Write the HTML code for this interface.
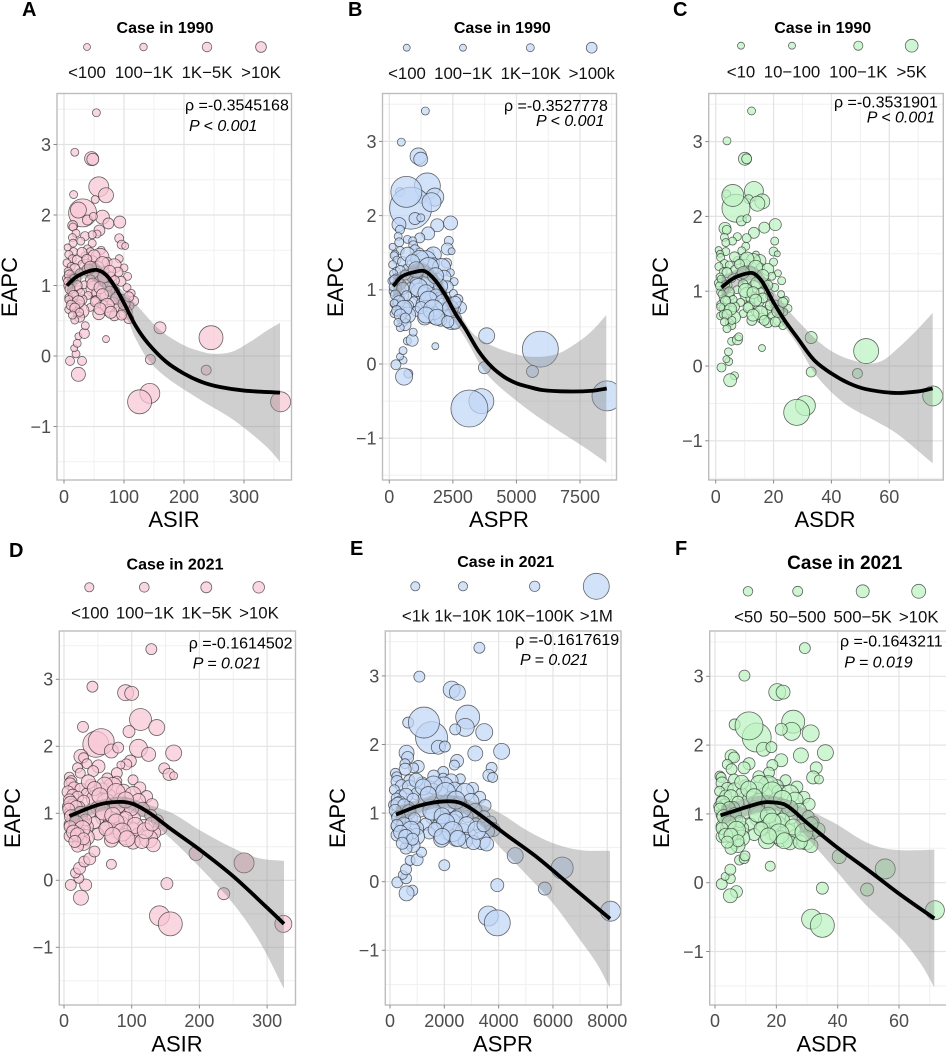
<!DOCTYPE html>
<html lang="en">
<head>
<meta charset="utf-8">
<title>EAPC scatter panels</title>
<style>
html,body{margin:0;padding:0;background:#fff;}
svg{display:block;font-family:"Liberation Sans",Arial,sans-serif;}
.letter{font-size:20px;font-weight:700;fill:#000;}
.ltitle{font-size:16px;font-weight:700;fill:#000;text-anchor:middle;}
.llabel{font-size:16.8px;fill:#111;text-anchor:middle;}
.rho{font-size:16px;fill:#000;}
.pv{font-size:16px;font-style:italic;fill:#000;}
.atitle{font-size:22px;fill:#000;text-anchor:middle;}
.tick{font-size:18px;fill:#4d4d4d;}
.lp{stroke:rgba(40,40,40,.7);stroke-width:.8;fill-opacity:.72;}
.pink{fill:#f8c6d6;}
.blue{fill:#c0d7f7;}
.green{fill:#bdf2c2;}
</style>
</head>
<body>
<svg id="fig" xmlns="http://www.w3.org/2000/svg" width="946" height="1053" viewBox="0 0 946 1053">
  <rect width="946" height="1053" fill="#fff"/>

  <g id="panel-a"></g>
  <g id="panel-b"></g>
  <g id="panel-c"></g>
  <g id="panel-d"></g>
  <g id="panel-e"></g>
  <g id="panel-f"></g>

  <!-- Panel A text -->
  <text class="letter" x="22" y="16">A</text>
  <text class="ltitle" x="165" y="33">Case in 1990</text>
  <g>
    <circle class="lp pink" cx="87" cy="47" r="3.5"/>
    <circle class="lp pink" cx="143.5" cy="47" r="3.8"/>
    <circle class="lp pink" cx="207" cy="47" r="4.8"/>
    <circle class="lp pink" cx="261" cy="47" r="5.4"/>
    <text class="llabel" x="87" y="78">&lt;100</text>
    <text class="llabel" x="144" y="78">100−1K</text>
    <text class="llabel" x="207" y="78">1K−5K</text>
    <text class="llabel" x="261" y="78">&gt;10K</text>
  </g>
  <text class="rho" x="185" y="110.7">ρ =-0.3545168</text>
  <text class="pv" x="189" y="131">P &lt; 0.001</text>
  <text class="atitle" x="174" y="527">ASIR</text>
  <text class="atitle" transform="translate(17,287) rotate(-90)">EAPC</text>

  <!-- Panel B text -->
  <text class="letter" x="348" y="16">B</text>
  <text class="ltitle" x="502.3" y="33">Case in 1990</text>
  <g>
    <circle class="lp blue" cx="406.7" cy="47.7" r="3.5"/>
    <circle class="lp blue" cx="463" cy="47.7" r="3.5"/>
    <circle class="lp blue" cx="530.3" cy="47.7" r="4"/>
    <circle class="lp blue" cx="591.7" cy="47.7" r="5.4"/>
    <text class="llabel" x="407" y="79">&lt;100</text>
    <text class="llabel" x="463.3" y="79">100−1K</text>
    <text class="llabel" x="530.7" y="79">1K−10K</text>
    <text class="llabel" x="591.7" y="79">&gt;100k</text>
  </g>
  <text class="rho" x="504" y="111">ρ =-0.3527778</text>
  <text class="pv" x="536" y="126">P &lt; 0.001</text>
  <text class="atitle" x="499" y="527">ASPR</text>
  <text class="atitle" transform="translate(343,287) rotate(-90)">EAPC</text>

  <!-- Panel C text -->
  <text class="letter" x="673" y="16">C</text>
  <text class="ltitle" x="822.7" y="33">Case in 1990</text>
  <g>
    <circle class="lp green" cx="741" cy="45.7" r="3.5"/>
    <circle class="lp green" cx="792" cy="45.7" r="3.5"/>
    <circle class="lp green" cx="858.3" cy="45.7" r="4.6"/>
    <circle class="lp green" cx="911.7" cy="45.7" r="6.4"/>
    <text class="llabel" x="741" y="77.7">&lt;10</text>
    <text class="llabel" x="792" y="77.7">10−100</text>
    <text class="llabel" x="858.3" y="77.7">100−1K</text>
    <text class="llabel" x="911.7" y="77.7">&gt;5K</text>
  </g>
  <text class="rho" x="834" y="107.3">ρ =-0.3531901</text>
  <text class="pv" x="866.7" y="122.7">P &lt; 0.001</text>
  <text class="atitle" x="825" y="527">ASDR</text>
  <text class="atitle" transform="translate(668,287) rotate(-90)">EAPC</text>

  <!-- Panel D text -->
  <text class="letter" x="9" y="557">D</text>
  <text class="ltitle" x="175" y="569.3">Case in 2021</text>
  <g>
    <circle class="lp pink" cx="89.3" cy="587.3" r="4.6"/>
    <circle class="lp pink" cx="144.3" cy="587.3" r="4.9"/>
    <circle class="lp pink" cx="206.3" cy="587.3" r="5.5"/>
    <circle class="lp pink" cx="258.7" cy="587.3" r="5.8"/>
    <text class="llabel" x="90" y="618.3">&lt;100</text>
    <text class="llabel" x="145" y="618.3">100−1K</text>
    <text class="llabel" x="206.7" y="618.3">1K−5K</text>
    <text class="llabel" x="259" y="618.3">&gt;10K</text>
  </g>
  <text class="rho" x="188.7" y="648.3">ρ =-0.1614502</text>
  <text class="pv" x="192.7" y="668.3">P = 0.021</text>
  <text class="atitle" x="177" y="1051.7">ASIR</text>
  <text class="atitle" transform="translate(20,818) rotate(-90)">EAPC</text>

  <!-- Panel E text -->
  <text class="letter" x="350" y="555">E</text>
  <text class="ltitle" x="505.7" y="567">Case in 2021</text>
  <g>
    <circle class="lp blue" cx="415.3" cy="586.3" r="4.6"/>
    <circle class="lp blue" cx="463" cy="586.3" r="4.6"/>
    <circle class="lp blue" cx="534.7" cy="586.3" r="5.2"/>
    <circle class="lp blue" cx="596.3" cy="586.3" r="13"/>
    <text class="llabel" x="415.7" y="621.7">&lt;1k</text>
    <text class="llabel" x="463" y="621.7">1k−10K</text>
    <text class="llabel" x="535" y="621.7">10K−100K</text>
    <text class="llabel" x="596.3" y="621.7">&gt;1M</text>
  </g>
  <text class="rho" x="515.3" y="645">ρ =-0.1617619</text>
  <text class="pv" x="520" y="665">P = 0.021</text>
  <text class="atitle" x="503" y="1051.7">ASPR</text>
  <text class="atitle" transform="translate(345,818) rotate(-90)">EAPC</text>

  <!-- Panel F text -->
  <text class="letter" x="675" y="555">F</text>
  <text class="ltitle" x="844.7" y="569" style="font-size:19px">Case in 2021</text>
  <g>
    <circle class="lp green" cx="748" cy="591.3" r="4.8"/>
    <circle class="lp green" cx="797.7" cy="591.3" r="5"/>
    <circle class="lp green" cx="862.7" cy="591.3" r="6.5"/>
    <circle class="lp green" cx="918.7" cy="591.3" r="7"/>
    <text class="llabel" x="748.3" y="622.3">&lt;50</text>
    <text class="llabel" x="797.7" y="622.3">50−500</text>
    <text class="llabel" x="862.7" y="622.3">500−5K</text>
    <text class="llabel" x="918.7" y="622.3">&gt;10K</text>
  </g>
  <text class="rho" x="840" y="646.7">ρ =-0.1643211</text>
  <text class="pv" x="844.3" y="667.3">P = 0.019</text>
  <text class="atitle" x="827" y="1051.7">ASDR</text>
  <text class="atitle" transform="translate(669,818) rotate(-90)">EAPC</text>
</svg>

<script>
// ---------- EAPC per country (same order in every array) ----------
const eapcASIR = [
3.45,2.89,2.80,2.79,2.40,2.28,2.29,2.22,2.03,2.07,1.97,1.93,1.98,1.88,1.90,1.85,1.83,1.78,1.74,1.73,1.70,1.72,1.68,1.67,1.63,1.60,1.60,1.58,1.56,1.54,1.52,1.48,1.50,1.48,
-0.07,-0.07,-0.26,0.03,0.11,0.18,0.28,0.32,0.24,0.43,
0.40,0.26,-0.05,-0.20,-0.53,-0.65,-0.65,
1.44,1.42,1.40,1.38,1.38,1.36,1.35,1.33,1.32,1.30,1.28,1.27,1.26,1.25,1.24,1.22,1.21,1.2,1.19,1.18,1.16,1.14,1.13,1.12,1.10,1.09,1.08,1.06,1.05,1.03,1.01,1.0,.98,.97,.95,.94,.93,.91,.90,.89,.87,.86,.85,.83,.82,.80,.79,.78,.76,.75,.74,.73,.71,.70,.69,.68,.66,.65,.64,.62,.60,.59,.57,.55,.53,.51,
1.15,1.10,1.06,1.0,.95,.9,.86,.8,.77,.72,.68,.62,.58,1.12,1.07,1.02,.97,.92,.87,.82,.77,.72,.67,.62,.58,.74,.84,1.47,1.42,1.37,1.31,1.26,1.2];
const eapcASPR = [
3.41,2.99,2.80,2.76,2.40,2.25,2.32,2.22,2.10,2.32,2.18,1.96,1.97,1.87,1.90,1.88,1.81,1.76,1.72,1.70,1.68,1.66,1.64,1.66,1.60,1.58,1.54,1.55,1.52,1.53,1.51,1.48,1.50,1.47,
-0.01,-0.13,-0.17,0.05,0.10,0.18,0.31,0.32,0.24,0.43,
0.38,0.20,-0.05,-0.10,-0.50,-0.60,-0.43,
1.46,1.44,1.38,1.40,1.36,1.38,1.33,1.35,1.34,1.28,1.30,1.25,1.28,1.23,1.26,1.20,1.23,1.22,1.17,1.20,1.14,1.16,1.11,1.14,1.12,1.07,1.10,1.04,1.07,1.01,1.03,.98,1.0,.95,.97,.92,.95,.89,.92,.87,.89,.84,.87,.81,.84,.78,.81,.76,.78,.73,.76,.71,.73,.68,.71,.66,.68,.63,.66,.60,.62,.57,.59,.53,.55,.49,
1.13,1.12,1.04,1.02,.93,.92,.84,.82,.75,.72,.66,.62,.56,1.13,1.05,1.03,.96,.93,.86,.83,.76,.73,.66,.63,.57,.75,.83,1.48,1.41,1.38,1.3,1.27,1.19];
const eapcASDR = [
3.41,3.01,2.77,2.77,2.34,2.20,2.30,2.23,2.11,2.28,2.17,1.94,1.97,1.85,1.89,1.84,1.82,1.78,1.72,1.71,1.73,1.67,1.65,1.67,1.60,1.55,1.54,1.53,1.50,1.53,1.46,1.50,1.49,1.41,
-0.02,-0.13,-0.19,0.06,0.09,0.19,0.33,0.35,0.24,0.39,
0.38,0.20,-0.08,-0.10,-0.53,-0.62,-0.40,
1.45,1.41,1.41,1.37,1.39,1.35,1.36,1.32,1.33,1.29,1.29,1.26,1.27,1.24,1.25,1.21,1.22,1.19,1.2,1.17,1.17,1.13,1.14,1.11,1.11,1.08,1.09,1.05,1.06,1.02,1.02,.99,.99,.96,.96,.93,.94,.90,.91,.88,.88,.85,.86,.82,.83,.79,.80,.77,.77,.74,.75,.72,.72,.69,.70,.67,.67,.64,.65,.61,.61,.58,.58,.54,.54,.50,
1.16,1.09,1.07,.99,.96,.89,.87,.79,.76,.69,.69,.61,.59,1.11,1.08,1.01,.98,.91,.88,.81,.78,.71,.68,.61,.59,.73,.85,1.46,1.43,1.36,1.32,1.25,1.21];

// ---------- Panel A: ASIR 1990 ----------
const asir1990 = [
54,18,46,48,58,70,16,52,31,24,64,39,49,74,93,14.5,15,59,20,55,35,47,14,92,28,15,47,96,102,6,39,16,62,44,
10,30,24,20,17,22,24,34,70,35.5,
160,245,144,237,143,126,361,
8,35,60,14,92,22,48,72,5,30,84,12,56,100,18,40,68,7,90,26,52,11,106,78,4,20,44,95,62,14,34,8,72,105,50,24,86,12,58,112,18,40,70,8,96,30,54,116,14,82,26,64,110,20,44,90,8,74,30,102,58,22,84,26,108,18,
9,16,6,22,10,28,16,8,24,12,18,26,14,66,84,48,60,76,64,88,52,72,60,78,96,100,108,30,50,38,64,44,76];
const sizeA = [
4,4,7,6,10,7.5,4,4,14,8,7,5,4,5.5,6,5,4,5.5,4,4,4.5,4,4,4.5,4,4,4,4.5,3.5,3.5,4,4,4,4,
4.5,4.5,7,4,3.5,4,3.5,5,3.5,4,
6,12,5,5,10,12,10,
4,4,9,4,4,5,5,5,4,4,7,4,6,4,5,6,4,4,5,4,8,4,4,5,4,5,5,5,7,4,4,5,5,4,8,4,4,4,7,4,4,4,6,4,4,5,5,5,5,6,4,5,4,5,4,5,4,6,7,7,6,4,5,5,5,4,
5,4,4,5,5,4,5,4,6,5,5,4,4,6,5,6,6,5,6,6,5,7,6,6,5,6,5,5,6,5,7,6,6];

// ---------- Panel B: ASPR 1990 ----------
const aspr1990 = [
1417,472,1142,1236,1496,1790,420,1270,840,670,1660,1010,1240,1885,2410,380,420,1530,350,1200,710,920,390,2340,940,130,1010,2280,2450,430,1200,220,1600,1730,
260,750,580,550,420,540,710,900,1810,940,
3830,5940,3740,5630,3620,3150,8560,
190,900,1420,300,2250,520,1160,1750,130,700,2050,280,1300,2400,430,960,1620,170,2150,630,1250,260,2550,1880,100,470,1050,2280,1480,330,810,190,1730,2520,1200,570,2060,290,1390,2700,430,960,1680,190,2300,720,1290,2800,340,1970,620,1540,2640,480,1060,2160,190,1780,720,2450,1390,530,2020,620,2590,430,
210,390,150,530,240,680,380,190,580,290,430,630,340,1580,2020,1150,1440,1830,1540,2110,1250,1730,1440,1870,2300,2400,2590,720,1200,910,1540,1060,1820];
const sizeB = [
4,4,8.3,7,13,9,4.5,4,21,15.5,9.5,6,4,6.5,7,7,4.5,6.5,4,5,4,4,4.5,4.5,4.5,3.5,5,6,3.5,4,4,4,4,8,
5,4.5,8.5,3.8,3.5,4,4,6,3.5,4,
8,18,6,6,12.5,18.5,15,
4,4,11,4,5,5,6,6,4,5,9,4,7,4,5,8,5,4,7,5,9,4,4,6,4,5,6,6,8,4,5,5,6,4,9,5,5,4,8,5,4,5,7,4,5,6,6,6,6,7,5,6,4,5,5,6,4,7,8,10,7,5,6,6,6,4,
5,4,4,6,5,5,6,4,8,5,6,5,4,8,7,9,8,6,9,8,6,10,8,8,6,8,6,7,9,7,10,8,8];

// ---------- Panel C: ASDR 1990 ----------
const asdr1990 = [
12.4,3.9,10.1,10.7,13.2,16.1,3.8,11.4,7,5.9,14.4,8.9,10.8,16.8,20.6,3.2,3.8,13.2,3,10.7,7.5,5.8,3.5,20.4,10.4,1,9,20,21.3,3.5,10.1,1.5,13.9,15.3,
2,6.5,5,4.5,3.7,4.4,5.5,7.5,16,8,
33,52,33,49,31,28,75,
1.7,7.5,13,3,20,4.7,10.3,15.5,1.1,6.5,18,2.6,12,21.5,3.9,8.6,14.6,1.5,19.4,5.6,11.2,2.4,22.8,16.8,.9,4.3,9.5,20.4,13.3,3,7.3,1.7,15.5,22.6,10.8,5.2,18.5,2.6,12.5,24,3.9,8.6,15,1.7,20.6,6.5,11.6,25,3,17.6,5.6,13.8,23.7,4.3,9.5,19.4,1.7,15.9,6.5,22,12.5,4.7,18,5.6,23.2,3.9,
1.9,3.4,1.3,4.7,2.2,6,3.4,1.7,5.2,2.6,3.9,5.6,3,14.2,18,10.3,12.9,16.3,13.8,18.9,11.2,15.5,12.9,16.8,20.6,21.5,23.2,6.5,10.8,8.2,13.8,9.5,16.3];
const sizeC = [
4,4,6.5,5,9.5,7.5,4,4.5,14,11,7.5,5,4,5.5,6,6,4.5,5.5,4,4.5,4,4,4,4,4,3.5,4,4.5,3,4,3.5,3.5,3.5,6,
4.5,4,6.5,4,3.5,4,4,5,3.5,4,
6,12.5,5,5,10,13,10,
4,4,7,4,4,4,5,4,4,4,6,4,5,3.5,5,5,4,4,4,4,7,4,4,5,4,4,5,4,6,4,4,4,4,3.5,7,4,4,4,6,4,4,4,5,4,4,5,5,4,5,5,4,4,3.5,4,4,4,4,5,6,6,5,4,5,4,4,4,
4,4,4,5,4,4,5,4,6,4,5,4,4,6,5,7,6,5,6,5,5,7,6,5,5,6,5,5,7,5,7,6,6];

// ---------- Panel D: ASIR 2021 ----------
const asir2021 = [
129,42,91,100,113,137,28,96,47,55,110,70,80,125,162,25,29,98,34,92,51,84,20,148,43,24,78,155,162,8,64,11,102,78,
10,32,25,22,17,23,30,38,70,45,
195,266,152,236,141,157,324,
9,40,72,15,112,25,55,88,6,33,102,13,66,122,20,45,82,8,110,29,62,12,130,95,5,22,50,116,75,16,38,9,88,128,60,26,104,13,70,138,20,45,85,9,118,33,64,142,15,100,29,78,134,22,50,110,9,90,33,125,70,25,102,29,132,20,
10,18,7,25,11,32,18,9,27,14,20,29,16,79,100,58,72,91,77,105,62,86,72,93,115,120,130,36,60,45,77,53,91];
const sizeD = [
5.5,5.5,8,7,11,8,5.5,6,13,13,9,7,5.5,7,8,7,5,6,5,5.5,6.5,4,5,5.5,5.5,5,5.5,6,4,5,5.5,5.5,5,5,
5.5,6,7.5,5,5,6,5.5,6,5,5.5,
7,10,6,6,10,12,8.5,
6,6,9,6,6,6,7,7,6,5,8,6,7,6,6,8,6,6,7,6,9,5,6,7,5,6,7,7,8,6,6,6,7,6,9,6,6,6,8,6,6,6,7,6,6,7,7,7,7,8,6,7,6,7,6,7,6,8,8,9,7,6,7,7,7,6,
7,6,6,7,7,6,7,6,8,7,7,6,6,8,7,8,8,7,8,8,7,9,8,8,7,8,7,7,8,7,9,8,8];

// ---------- Panel E: ASPR 2021 ----------
const aspr2021 = [
3290,1080,2270,2480,2860,2770,670,2400,1530,1250,3470,1780,2020,3140,4110,610,650,2470,550,2370,1040,870,560,3740,1960,200,1610,3640,3780,250,1960,710,2590,2250,
270,820,610,590,470,590,740,1000,2000,1160,
4610,6340,3950,5700,3620,3950,8120,
260,1180,1980,420,3040,720,1580,2380,160,980,2760,390,1840,3300,590,1320,2240,230,2980,850,1710,360,3500,2570,130,650,1450,3130,2040,460,1120,260,2380,3460,1650,790,2840,390,1900,3700,590,1320,2310,260,3170,980,1780,3800,460,2700,850,2110,3630,650,1450,2970,260,2440,980,3360,1900,720,2770,850,3560,590,
290,510,190,700,320,900,510,260,770,390,580,830,450,2110,2690,1540,1920,2430,2050,2820,1660,2300,1920,2500,3070,3200,3460,960,1600,1220,2050,1410,2430];
const sizeE = [
5.5,5.5,8.5,8,12,9,5.5,5.5,16,15.5,8.5,7,5.5,7.5,8,7.5,6,6.5,5,5,6,5,6,5.5,5.5,5,6,6,5,5,5,5.5,5,7,
5.5,5.5,7.5,5.5,4.5,5.5,5,6,5.5,5,
8,11,6.5,6.5,10,13,10,
6,6,10,6,6,7,7,7,5,6,9,6,8,6,7,8,6,5,8,6,9,6,6,7,5,7,7,7,9,6,6,6,7,6,10,6,6,6,8,6,6,6,8,6,6,7,7,7,7,8,6,7,6,7,6,7,6,8,8,9,8,6,7,7,7,6,
7,6,6,7,7,6,7,6,9,7,7,6,6,9,8,9,8,7,9,8,7,10,8,8,7,9,7,7,9,8,10,8,9];

// ---------- Panel F: ASDR 2021 ----------
const asdr2021 = [
29.3,9.6,20.3,22.2,25.5,25,6.4,21.6,13.6,11.1,31.2,15.8,18.4,28,36,5.4,6.2,21.6,4,18.7,11.1,9.5,5.4,33,17.6,1.6,14.3,32,33.9,2,17.6,6.2,23,20.3,
2.2,7,5,5,3.3,5,8,9.5,18,9.8,
40.5,55.5,35,49.6,31.5,35,71.7,
2.3,10,17.4,4,26.7,6.4,13.9,20.9,1.5,8.7,24.4,3.5,16.2,29,5.2,11.6,19.7,2,26.1,7.5,15,3.2,30.7,22.6,1.2,5.8,12.8,27.5,18,4,9.9,2.3,20.9,30.4,14.5,7,24.9,3.5,16.8,32,5.2,11.6,20.3,2.3,27.8,8.7,15.7,33.6,4,23.8,7.5,18.6,31.9,5.8,12.8,26.1,2.3,21.5,8.7,29.6,16.8,6.4,24.4,7.5,31.3,5.2,
2.6,4.6,1.7,6.4,2.9,8.1,4.6,2.3,7,3.5,5.2,7.5,4,19.1,24.4,13.9,17.4,22,18.6,25.5,15,20.9,17.4,22.6,27.8,29,31.3,8.7,14.5,11,18.6,12.8,22];
const sizeF = [
5.5,5.5,8.5,7,11.5,9,5.5,6,14.5,14,8.5,7,5.5,7.5,8,6.5,5.5,6.5,5,5.5,6,6,5.5,6,5.5,5,6,6.5,4.5,5,5,5.5,5.5,6,
5.5,6,7,5,4,5.5,5,5,5,5,
7,10,6,6.5,10,12,9.5,
6,6,10,6,6,7,7,7,5,6,9,6,8,6,7,8,6,5,8,6,9,6,6,7,5,7,7,7,9,6,6,6,7,6,10,6,6,6,8,6,6,6,8,6,6,7,7,7,7,8,6,7,6,7,6,7,6,8,8,9,8,6,7,7,7,6,
7,6,6,7,7,6,7,6,9,7,7,6,6,9,8,9,8,7,9,8,7,10,8,8,7,9,7,7,9,8,10,8,9];

// ---------- Smooth fits and confidence bands ----------
const fitAx = [5,20,40,55,70,85,100,120,140,170,200,230,260,300,360];
const fitAy = [1.0,1.12,1.2,1.22,1.15,.98,.75,.42,.18,-.08,-.25,-.37,-.44,-.49,-.52];
const hiAx = [5,40,55,100,118,160,200,230,250,280,310,340,360];
const hiAy = [1.15,1.3,1.32,.9,.75,.37,.15,.06,.03,.06,.2,.37,.47];
const loAx = [5,40,100,118,140,170,227,283,338,360];
const loAy = [.85,1.1,.6,.27,-.05,-.3,-.62,-.91,-1.29,-1.5];

const fitBx = [150,500,1000,1400,1800,2200,2600,3000,3500,4000,4500,5000,5500,6000,7000,8000,8550];
const fitBy = [1.05,1.18,1.24,1.25,1.13,.93,.68,.47,.18,-.03,-.17,-.26,-.31,-.35,-.37,-.36,-.33];
const hiBx = [150,1400,2600,3430,5130,6440,7356,8010,8534];
const hiBy = [1.2,1.35,.78,.37,.12,.12,.28,.46,.66];
const loBx = [150,1400,2600,3040,3820,5130,6440,7750,8534];
const loBy = [.9,1.15,.55,.32,-.13,-.53,-.85,-1.14,-1.33];

const fitCx = [2,6,10,13,16,20,24,28,34,40,46,52,62,70,75];
const fitCy = [1.05,1.17,1.23,1.24,1.13,.85,.6,.39,.08,-.1,-.23,-.31,-.36,-.34,-.3];
const hiCx = [2,13,20,28,39.5,51,57,62.5,69.5,75];
const hiCy = [1.2,1.33,1.0,.62,.21,.04,.06,.22,.48,.71];
const loCx = [2,13,20,28,35,44.5,55,62.5,75];
const loCy = [.9,1.14,.72,.3,-.14,-.5,-.73,-.9,-1.3];

const fitDx = [8,52,82,102,127,160,200,250,298,325];
const fitDy = [.96,1.13,1.17,1.14,1.0,.75,.46,.06,-.39,-.65];
const hiDx = [8,82,127,160,200,250,288,325];
const hiDy = [1.05,1.25,1.12,1.0,.75,.48,.33,.29];
const loDx = [8,82,127,160,200,250,288,325];
const loDy = [.85,1.08,.88,.6,.2,-.35,-.9,-1.62];

const fitEx = [220,1100,1960,2580,3190,4290,5400,6630,8100];
const fitEy = [.98,1.11,1.17,1.15,1.01,.68,.36,-.05,-.54];
const hiEx = [220,1960,3190,4050,5030,6010,7000,8100];
const hiEy = [1.1,1.27,1.15,1.0,.75,.56,.46,.45];
const loEx = [220,1960,3190,4050,5030,6010,7000,7610,8100];
const loEy = [.87,1.08,.87,.5,.1,-.32,-.85,-1.19,-1.55];

const fitFx = [1.8,15,18,23,30,39.6,50,60,71.5];
const fitFy = [.98,1.16,1.17,1.13,.87,.52,.18,-.16,-.52];
const hiFx = [2,18,33,40,48.7,55,62,71.5];
const hiFy = [1.12,1.27,1.0,.84,.6,.5,.47,.48];
const loFx = [2,18,25,28,37.5,48.7,60,67,71.5];
const loFy = [.85,1.05,.95,.76,.28,-.3,-.78,-1.17,-1.52];

// ---------- Tick labels ----------
const yTicks = [-1,0,1,2,3];
const yMinor = [-1.5,-.5,.5,1.5,2.5,3.5];
const xTicksA = [0,100,200,300];
const xMinorA = [50,150,250,350];
const xTicksB = [0,2500,5000,7500];
const xMinorB = [1250,3750,6250,8750];
const xTicksC = [0,20,40,60];
const xMinorC = [10,30,50,70];
const xTicksD = [0,100,200,300];
const xMinorD = [50,150,250];
const xTicksE = [0,2000,4000,6000,8000];
const xMinorE = [1000,3000,5000,7000];
const xTicksF = [0,20,40,60];
const xMinorF = [10,30,50,70];

const NS = 'http://www.w3.org/2000/svg';
function make(tag, attrs, parent) {
  const node = document.createElementNS(NS, tag);
  for (const k in attrs) node.setAttribute(k, attrs[k]);
  parent.appendChild(node);
  return node;
}
function tangent(a, b) {
  const dx = b[0] - a[0], dy = b[1] - a[1];
  const len = Math.hypot(dx, dy) || 1;
  return [dx / len, dy / len];
}
function smooth(pts, start) {
  let d = (start ? 'M' : 'L') + pts[0][0].toFixed(2) + ' ' + pts[0][1].toFixed(2);
  for (let i = 0; i < pts.length - 1; i++) {
    const p0 = pts[Math.max(i - 1, 0)], p1 = pts[i], p2 = pts[i + 1], p3 = pts[Math.min(i + 2, pts.length - 1)];
    const seg = Math.hypot(p2[0] - p1[0], p2[1] - p1[1]) / 3;
    const t1 = tangent(p0, p2), t2 = tangent(p1, p3);
    d += 'C' + (p1[0] + t1[0] * seg).toFixed(2) + ' ' + (p1[1] + t1[1] * seg).toFixed(2) + ' ' +
      (p2[0] - t2[0] * seg).toFixed(2) + ' ' + (p2[1] - t2[1] * seg).toFixed(2) + ' ' +
      p2[0].toFixed(2) + ' ' + p2[1].toFixed(2);
  }
  return d;
}
function zipPts(xs, ys, sx, sy) {
  return xs.map(function (v, i) { return [sx(v), sy(ys[i])]; });
}

function drawPanel(o) {
  const g = document.getElementById('panel-' + o.id);
  const sx = function (v) { return o.x0 + v * o.xk; };
  const sy = function (v) { return o.y0 - v * o.yk; };

  const clip = make('clipPath', { id: 'clip-' + o.id }, g);
  make('rect', { x: o.left, y: o.top, width: o.right - o.left, height: o.bottom - o.top }, clip);

  const grid = make('g', {}, g);
  
  
  o.xMinor.forEach(function (v) {
    make('line', { x1: sx(v), x2: sx(v), y1: o.top, y2: o.bottom, stroke: '#f0f0f0', 'stroke-width': 1 }, grid);
  });
  yMinor.forEach(function (v) {
    make('line', { x1: o.left, x2: o.right, y1: sy(v), y2: sy(v), stroke: '#f0f0f0', 'stroke-width': 1 }, grid);
  });
  o.xTicks.forEach(function (v) {
    make('line', { x1: sx(v), x2: sx(v), y1: o.top, y2: o.bottom, stroke: '#e3e3e3', 'stroke-width': 1.2 }, grid);
  });
  yTicks.forEach(function (v) {
    make('line', { x1: o.left, x2: o.right, y1: sy(v), y2: sy(v), stroke: '#e3e3e3', 'stroke-width': 1.2 }, grid);
  });

  const plot = make('g', { 'clip-path': 'url(#clip-' + o.id + ')' }, g);
  const dots = make('g', {}, plot);
  
  
  o.xs.forEach(function (v, i) {
    const c = make('circle', { cx: sx(v).toFixed(2), cy: sy(o.ys[i]).toFixed(2), r: o.rs[i], fill: o.fill, 'fill-opacity': .72, stroke: 'rgba(40,40,40,.7)', 'stroke-width': .8 }, dots);
    
    
  });

  const hiPts = zipPts(o.hiX, o.hiY, sx, sy);
  const loPts = zipPts(o.loX, o.loY, sx, sy).reverse();
  const band = make('path', { d: smooth(hiPts, true) + smooth(loPts, false) + 'Z', fill: '#8c8c8c', 'fill-opacity': .42 }, plot);
  
  

  const fit = make('path', { d: smooth(zipPts(o.fitX, o.fitY, sx, sy), true), fill: 'none', stroke: '#000', 'stroke-width': 3.8, 'stroke-linecap': 'butt' }, plot);
  
  

  const frame = make('rect', { x: o.left, y: o.top, width: o.right - o.left, height: o.bottom - o.top, fill: 'none', stroke: '#bdbdbd', 'stroke-width': 1.4 }, g);
  
  

  const axes = make('g', {}, g);
  
  
  yTicks.forEach(function (v) {
    make('line', { x1: o.left - 3.5, x2: o.left, y1: sy(v), y2: sy(v), stroke: '#8a8a8a', 'stroke-width': 1 }, axes);
    const t = make('text', { class: 'tick', x: o.left - 6, y: sy(v) + 6.4, 'text-anchor': 'end' }, axes);
    t.textContent = v < 0 ? '−' + Math.abs(v) : String(v);
    
    
  });
  o.xTicks.forEach(function (v) {
    make('line', { x1: sx(v), x2: sx(v), y1: o.bottom, y2: o.bottom + 3.5, stroke: '#8a8a8a', 'stroke-width': 1 }, axes);
    const t = make('text', { class: 'tick', x: sx(v), y: o.tickBase, 'text-anchor': 'middle' }, axes);
    t.textContent = String(v);
    
    
  });
}

const PINK = '#f8c6d6', BLUE = '#c0d7f7', GREEN = '#bdf2c2';

drawPanel({ id: 'a', left: 57, right: 291.5, top: 93.5, bottom: 480, x0: 64, xk: .6, y0: 356, yk: 70.5, tickBase: 503, fill: PINK,
  xs: asir1990, ys: eapcASIR, rs: sizeA, fitX: fitAx, fitY: fitAy, hiX: hiAx, hiY: hiAy, loX: loAx, loY: loAy, xTicks: xTicksA, xMinor: xMinorA });
drawPanel({ id: 'b', left: 382.5, right: 616.5, top: 93.5, bottom: 480, x0: 389.3, xk: .02543, y0: 364, yk: 74.2, tickBase: 503, fill: BLUE,
  xs: aspr1990, ys: eapcASPR, rs: sizeB, fitX: fitBx, fitY: fitBy, hiX: hiBx, hiY: hiBy, loX: loBx, loY: loBy, xTicks: xTicksB, xMinor: xMinorB });
drawPanel({ id: 'c', left: 708.7, right: 943.3, top: 93.5, bottom: 480, x0: 715.7, xk: 2.893, y0: 366, yk: 74.8, tickBase: 503, fill: GREEN,
  xs: asdr1990, ys: eapcASDR, rs: sizeC, fitX: fitCx, fitY: fitCy, hiX: hiCx, hiY: hiCy, loX: loCx, loY: loCy, xTicks: xTicksC, xMinor: xMinorC });
drawPanel({ id: 'd', left: 59.3, right: 295.5, top: 631, bottom: 1005, x0: 64, xk: .677, y0: 880.3, yk: 67, tickBase: 1027, fill: PINK,
  xs: asir2021, ys: eapcASIR, rs: sizeD, fitX: fitDx, fitY: fitDy, hiX: hiDx, hiY: hiDy, loX: loDx, loY: loDy, xTicks: xTicksD, xMinor: xMinorD });
drawPanel({ id: 'e', left: 385.3, right: 621, top: 631, bottom: 1005, x0: 390, xk: .02716, y0: 881.7, yk: 68.6, tickBase: 1027, fill: BLUE,
  xs: aspr2021, ys: eapcASPR, rs: sizeE, fitX: fitEx, fitY: fitEy, hiX: hiEx, hiY: hiEy, loX: loEx, loY: loEy, xTicks: xTicksE, xMinor: xMinorE });
drawPanel({ id: 'f', left: 709.7, right: 947, top: 631, bottom: 1005, x0: 715, xk: 3.067, y0: 882.7, yk: 68.8, tickBase: 1027, fill: GREEN,
  xs: asdr2021, ys: eapcASDR, rs: sizeF, fitX: fitFx, fitY: fitFy, hiX: hiFx, hiY: hiFy, loX: loFx, loY: loFy, xTicks: xTicksF, xMinor: xMinorF });
</script>
</body>
</html>
